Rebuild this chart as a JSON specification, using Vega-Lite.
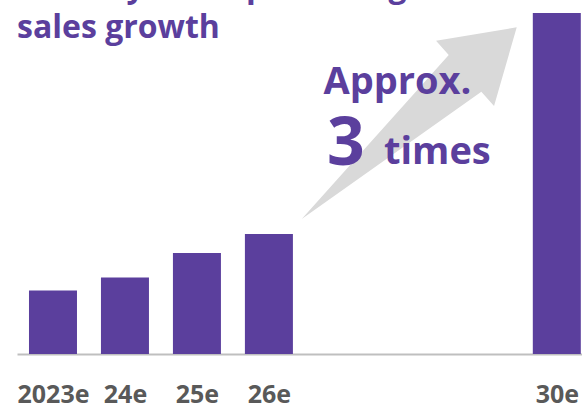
{
  "$schema": "https://vega.github.io/schema/vega-lite/v6.json",
  "width": 565,
  "height": 354,
  "autosize": {"type": "none"},
  "padding": {"left": 17, "top": 0, "right": 0, "bottom": 50},
  "background": "white",
  "config": {"view": {"stroke": null}, "font": "Open Sans"},
  "layer": [
    {
      "data": {"values": [{"note": "growth arrow"}]},
      "mark": {"type": "point",
        "shape": "M -1.633 1.456 L -0.163 -0.183 L -0.29 -0.327 L 0.517 -0.461 L 0.29 0.326 L 0.163 0.183 Z",
        "size": 40000, "filled": true, "color": "#d9d9d9", "opacity": 1, "strokeWidth": 0},
      "encoding": {
        "x": {"datum": 2028.725, "type": "quantitative",
          "scale": {"domain": [2022.5, 2030.35], "nice": false, "zero": false, "padding": 0},
          "axis": {"values": [2023, 2024, 2025, 2026, 2030],
            "labelExpr": "datum.value == 2023 ? '2023e' : substring(toString(datum.value), 2) + 'e'",
            "ticks": false, "grid": false, "domainColor": "#bfbfbf", "domainWidth": 2,
            "labelFont": "Open Sans", "labelFontWeight": "bold", "labelFontSize": 25,
            "labelColor": "#595959", "labelPadding": 28, "labelFlush": false, "labelOverlap": false, "title": null}},
        "y": {"datum": 441.9, "type": "quantitative",
          "scale": {"domain": [0, 557.5], "nice": false, "zero": true, "padding": 0}, "axis": null}
      }
    },
    {
      "data": {"values": [
        {"year": 2023, "sales": 100},
        {"year": 2024, "sales": 120.6},
        {"year": 2025, "sales": 159},
        {"year": 2026, "sales": 189},
        {"year": 2030, "sales": 537}
      ]},
      "mark": {"type": "bar", "size": 48, "color": "#5b3f9d"},
      "encoding": {
        "x": {"field": "year", "type": "quantitative"},
        "y": {"field": "sales", "type": "quantitative"}
      }
    },
    {
      "data": {"values": [{"note": "title"}]},
      "mark": {"type": "text", "font": "Open Sans", "fontWeight": "bold", "fontSize": 32, "lineHeight": 41,
        "align": "left", "baseline": "alphabetic", "color": "#5b3f9d",
        "text": ["Steadily more promising", "sales growth"]},
      "encoding": {"x": {"datum": 2022.5, "type": "quantitative"}, "y": {"datum": 562.2, "type": "quantitative"}}
    },
    {
      "data": {"values": [{"note": "Approx."}]},
      "mark": {"type": "text", "font": "Open Sans", "fontWeight": "bold", "fontSize": 38,
        "align": "center", "baseline": "alphabetic", "color": "#5b3f9d"},
      "encoding": {"text": {"field": "note"}, "x": {"datum": 2027.786, "type": "quantitative"}, "y": {"datum": 409.4, "type": "quantitative"}}
    },
    {
      "data": {"values": [{"note": "3"}]},
      "mark": {"type": "text", "font": "Open Sans", "fontWeight": "bold", "fontSize": 66,
        "align": "left", "baseline": "alphabetic", "color": "#5b3f9d"},
      "encoding": {"text": {"field": "note"}, "x": {"datum": 2026.807, "type": "quantitative"}, "y": {"datum": 297.6, "type": "quantitative"}}
    },
    {
      "data": {"values": [{"note": "times"}]},
      "mark": {"type": "text", "font": "Open Sans", "fontWeight": "bold", "fontSize": 38,
        "align": "left", "baseline": "alphabetic", "color": "#5b3f9d"},
      "encoding": {"text": {"field": "note"}, "x": {"datum": 2027.599, "type": "quantitative"}, "y": {"datum": 299.2, "type": "quantitative"}}
    }
  ]
}
